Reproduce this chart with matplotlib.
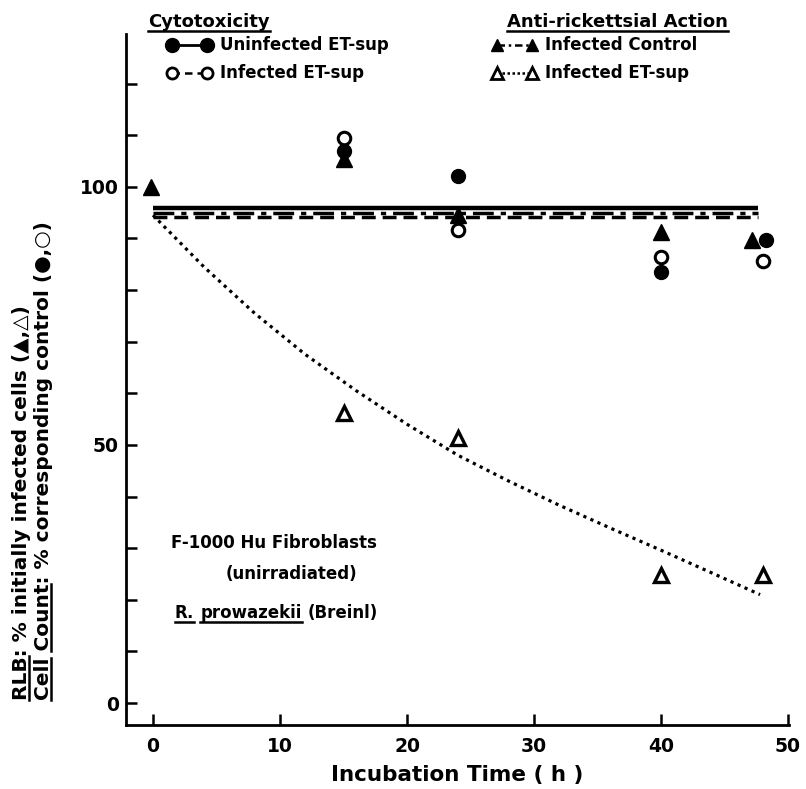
import matplotlib
matplotlib.use("Agg")
import matplotlib.pyplot as plt
from matplotlib.lines import Line2D

plt.rcParams["font.family"] = ["DejaVu Sans"]
plt.rcParams["font.weight"] = "bold"
plt.rcParams["axes.labelweight"] = "bold"

# values
t_uninf = [15, 24, 40, 48.3]
uninf_et = [107.0, 102.0, 83.5, 89.7]          # filled circles
t_inf_cell = [15, 24, 40, 48.0]
inf_et_cell = [109.5, 91.7, 86.4, 85.7]        # open circles
t_ctrl = [-0.2, 15, 24, 40, 47.2]
inf_control = [100.0, 105.4, 94.5, 91.3, 89.7]  # filled triangles
t_rlb = [15, 24, 40, 48]
inf_et_rlb = [56.2, 51.4, 24.8, 24.8]          # open triangles

# mean lines (horizontal)
mean_t = [0, 47.6]
mean_uninf = 95.8
mean_ctrl = 95.0
mean_inf = 94.2

# fitted curve for infected ET-sup (RLB), read at several points
curve_t = [0, 4, 8, 12, 16, 20, 24, 28, 32, 36, 40, 44, 47.8]
curve_y = [94.5, 84.5, 75.5, 67.5, 60.5, 54.0, 48.0, 43.0, 38.3, 33.9, 29.6, 25.2, 21.0]

W, H = 806, 789


def fx(px):
    return px / W


def fy(py):
    return 1 - py / H


fig = plt.figure(figsize=(W / 100, H / 100), dpi=100)
ax = fig.add_axes([fx(126), fy(725), (789 - 126) / W, (725 - 34) / H])
ax.set_xlim(-2.13, 50.08)
ax.set_ylim(-4.26, 129.6)

for s in ["top", "right"]:
    ax.spines[s].set_visible(False)
for s in ["left", "bottom"]:
    ax.spines[s].set_linewidth(2)

ax.set_xticks([0, 10, 20, 30, 40, 50])
ax.set_yticks([0, 50, 100])
ax.set_yticks(range(10, 130, 10), minor=True)
ax.tick_params(direction="in", length=8, width=1.8, labelsize=13.5)
ax.tick_params(axis="x", pad=9)
ax.tick_params(axis="y", pad=5)
ax.tick_params(axis="y", which="minor", direction="in", length=8, width=1.8)

ax.set_xlabel("Incubation Time ( h )", fontsize=15.5, labelpad=6)

# mean lines
ax.plot(mean_t, [mean_uninf] * 2, color="k", lw=3.2, solid_capstyle="butt")
ax.plot(mean_t, [mean_ctrl] * 2, color="k", lw=2.5, linestyle=(0, (6, 2, 1.5, 2)))
ax.plot(mean_t, [mean_inf] * 2, color="k", lw=2.5, linestyle=(0, (4, 2)))

# dotted curve
ax.plot(curve_t, curve_y, color="k", lw=2.3, linestyle=(0, (1, 1.4)))

# points
ax.plot(t_uninf, uninf_et, "o", color="k", ms=10, clip_on=False)
ax.plot(t_inf_cell, inf_et_cell, "o", mfc="white", mec="k", mew=2.2, ms=9, clip_on=False)
ax.plot(t_ctrl, inf_control, "^", color="k", ms=11, clip_on=False)
ax.plot(t_rlb, inf_et_rlb, "^", mfc="white", mec="k", mew=2.4, ms=10, clip_on=False)

r = fig.canvas.get_renderer()


def width_of(s, size):
    t = fig.text(0, 0, s, fontsize=size)
    w = t.get_window_extent(r).width
    t.remove()
    return w


def underline(x0, x1, y, lw=1.8):
    fig.add_artist(Line2D([fx(x0), fx(x1)], [fy(y), fy(y)], color="k", lw=lw))


def text_ul(x, y, s, size, ul=True):
    # place text at pixel x (baseline y), return its right edge; optionally underline
    t = fig.text(fx(x), fy(y), s, fontsize=size, va="baseline")
    bb = t.get_window_extent(r)
    if ul:
        underline(bb.x0, bb.x1, y + 4)
    return bb.x1


# legend
fs = 12
hdr_y, row1_y, row2_y = 27, 50, 78
text_ul(148, hdr_y, "Cytotoxicity", 13)
text_ul(507, hdr_y, "Anti-rickettsial Action", 13)

fig.add_artist(Line2D([fx(172), fx(207)], [fy(row1_y - 5)] * 2, color="k", lw=2,
                      marker="o", ms=10))
fig.text(fx(220), fy(row1_y), "Uninfected ET-sup", fontsize=fs, va="baseline")
fig.add_artist(Line2D([fx(172), fx(207)], [fy(row2_y - 5)] * 2, color="k", lw=1.8,
                      linestyle=(0, (3, 2)), marker="o", ms=8, mfc="white", mew=2))
fig.text(fx(220), fy(row2_y), "Infected ET-sup", fontsize=fs, va="baseline")

fig.add_artist(Line2D([fx(497), fx(532)], [fy(row1_y - 5)] * 2, color="k", lw=1.8,
                      linestyle=(0, (3, 1.5, 1, 1.5)), marker="^", ms=9))
fig.text(fx(545), fy(row1_y), "Infected Control", fontsize=fs, va="baseline")
fig.add_artist(Line2D([fx(497), fx(532)], [fy(row2_y - 5)] * 2, color="k", lw=1.8,
                      linestyle=(0, (1, 1)), marker="^", ms=9, mfc="white", mew=2))
fig.text(fx(545), fy(row2_y), "Infected ET-sup", fontsize=fs, va="baseline")

# annotation block
fig.text(fx(274), fy(543), "F-1000 Hu Fibroblasts", fontsize=fs, ha="center", va="center")
fig.text(fx(291), fy(574), "(unirradiated)", fontsize=fs, ha="center", va="center")
sp = width_of("a b", fs) - width_of("ab", fs)
xe = text_ul(175, 618, "R.", fs)
xe = text_ul(xe + sp, 618, "prowazekii", fs)
text_ul(xe + sp, 618, "(Breinl)", fs, ul=False)

# y label: two rotated lines with underlined words
lab1 = "RLB: % initially infected cells (▲,△)"
lab2 = "Cell Count: % corresponding control (●,○)"
yfs = 14.5
base_y = 700
for xpos, lab, words in [(22, lab1, ["RLB"]), (44, lab2, ["Cell", "Count"])]:
    t = fig.text(fx(xpos), fy(base_y), lab, fontsize=yfs, rotation=90,
                 ha="center", va="bottom")
    bb = t.get_window_extent(r)
    ux = bb.x1 - 3
    for wd in words:
        i = lab.index(wd)
        if i > 0:
            a = width_of(lab[:i + 1], yfs) - width_of(lab[i], yfs)
        else:
            a = 0
        b = width_of(lab[:i + len(wd)], yfs)
        fig.add_artist(Line2D([fx(ux), fx(ux)], [fy(base_y - a), fy(base_y - b)],
                              color="k", lw=1.8))

fig.savefig("out.png", dpi=100)
